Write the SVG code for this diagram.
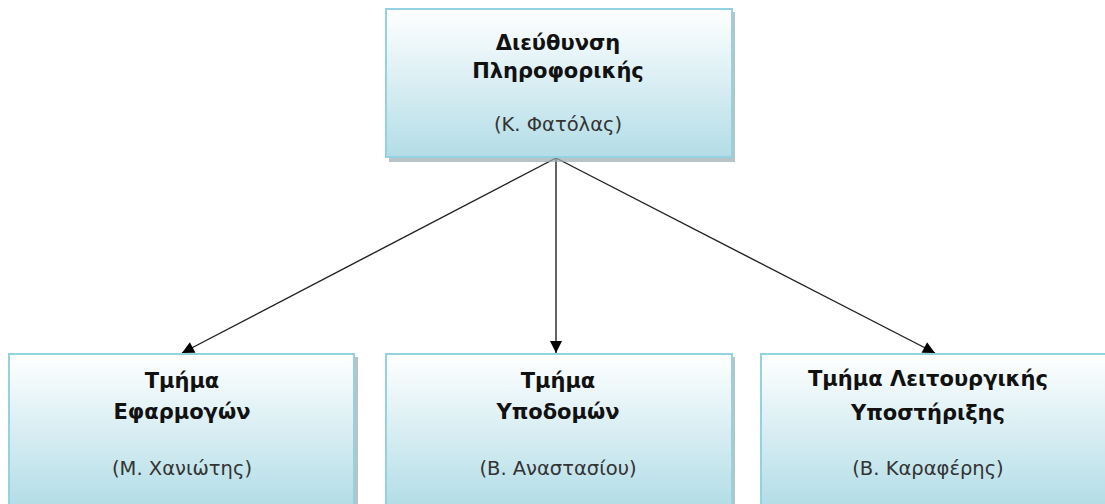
<svg xmlns="http://www.w3.org/2000/svg" width="1105" height="504" viewBox="0 0 1105 504">
  <defs>
    <linearGradient id="boxFill" x1="0" y1="0" x2="0" y2="1">
      <stop offset="0" stop-color="#ffffff"/>
      <stop offset="1" stop-color="#b3dde7"/>
    </linearGradient>
    <marker id="arrow" viewBox="0 0 10 10" refX="10" refY="5" markerWidth="13" markerHeight="12" markerUnits="userSpaceOnUse" orient="auto">
      <path d="M0,0 L10,5 L0,10 z" fill="#000"/>
    </marker>
  </defs>
  <style>
    .shadow { fill: #9aaab0; opacity: 0.7; }
    .box { fill: url(#boxFill); stroke: #93d2e0; stroke-width: 2; }
    .title { font-family: "DejaVu Sans", "Liberation Sans", sans-serif; font-weight: bold; font-size: 21px; fill: #111; text-anchor: middle; }
    .name { font-family: "DejaVu Sans", "Liberation Sans", sans-serif; font-size: 19.5px; fill: #333; text-anchor: middle; }
    .edge { stroke: #222; stroke-width: 1.4; fill: none; marker-end: url(#arrow); }
  </style>
  <rect width="1105" height="504" fill="#ffffff"/>

  <g id="connectors">
    <line class="edge" x1="556" y1="158" x2="182" y2="353"/>
    <line class="edge" x1="556" y1="158" x2="556" y2="353" stroke="#555"/>
    <line class="edge" x1="556" y1="158" x2="935" y2="353"/>
  </g>

  <g id="node-director">
    <rect class="shadow" x="389" y="12" width="346" height="150"/>
    <rect class="box" x="386" y="9" width="346" height="148"/>
    <text class="title" x="558" y="50">Διεύθυνση</text>
    <text class="title" x="558" y="78">Πληροφορικής</text>
    <text class="name" x="558" y="131">(Κ. Φατόλας)</text>
  </g>

  <g id="node-applications">
    <rect class="shadow" x="12" y="357" width="346" height="150"/>
    <rect class="box" x="9" y="354" width="345" height="152"/>
    <text class="title" x="182" y="388">Τμήμα</text>
    <text class="title" x="182" y="419">Εφαρμογών</text>
    <text class="name" x="182" y="475">(Μ. Χανιώτης)</text>
  </g>

  <g id="node-infrastructure">
    <rect class="shadow" x="389" y="357" width="346" height="150"/>
    <rect class="box" x="386" y="354" width="346" height="152"/>
    <text class="title" x="558" y="388">Τμήμα</text>
    <text class="title" x="558" y="419">Υποδομών</text>
    <text class="name" x="558" y="475">(Β. Αναστασίου)</text>
  </g>

  <g id="node-operations">
    <rect class="shadow" x="764" y="357" width="346" height="150"/>
    <rect class="box" x="761" y="354" width="346" height="152"/>
    <text class="title" x="928" y="386">Τμήμα Λειτουργικής</text>
    <text class="title" x="928" y="420">Υποστήριξης</text>
    <text class="name" x="928" y="475">(Β. Καραφέρης)</text>
  </g>
</svg>
